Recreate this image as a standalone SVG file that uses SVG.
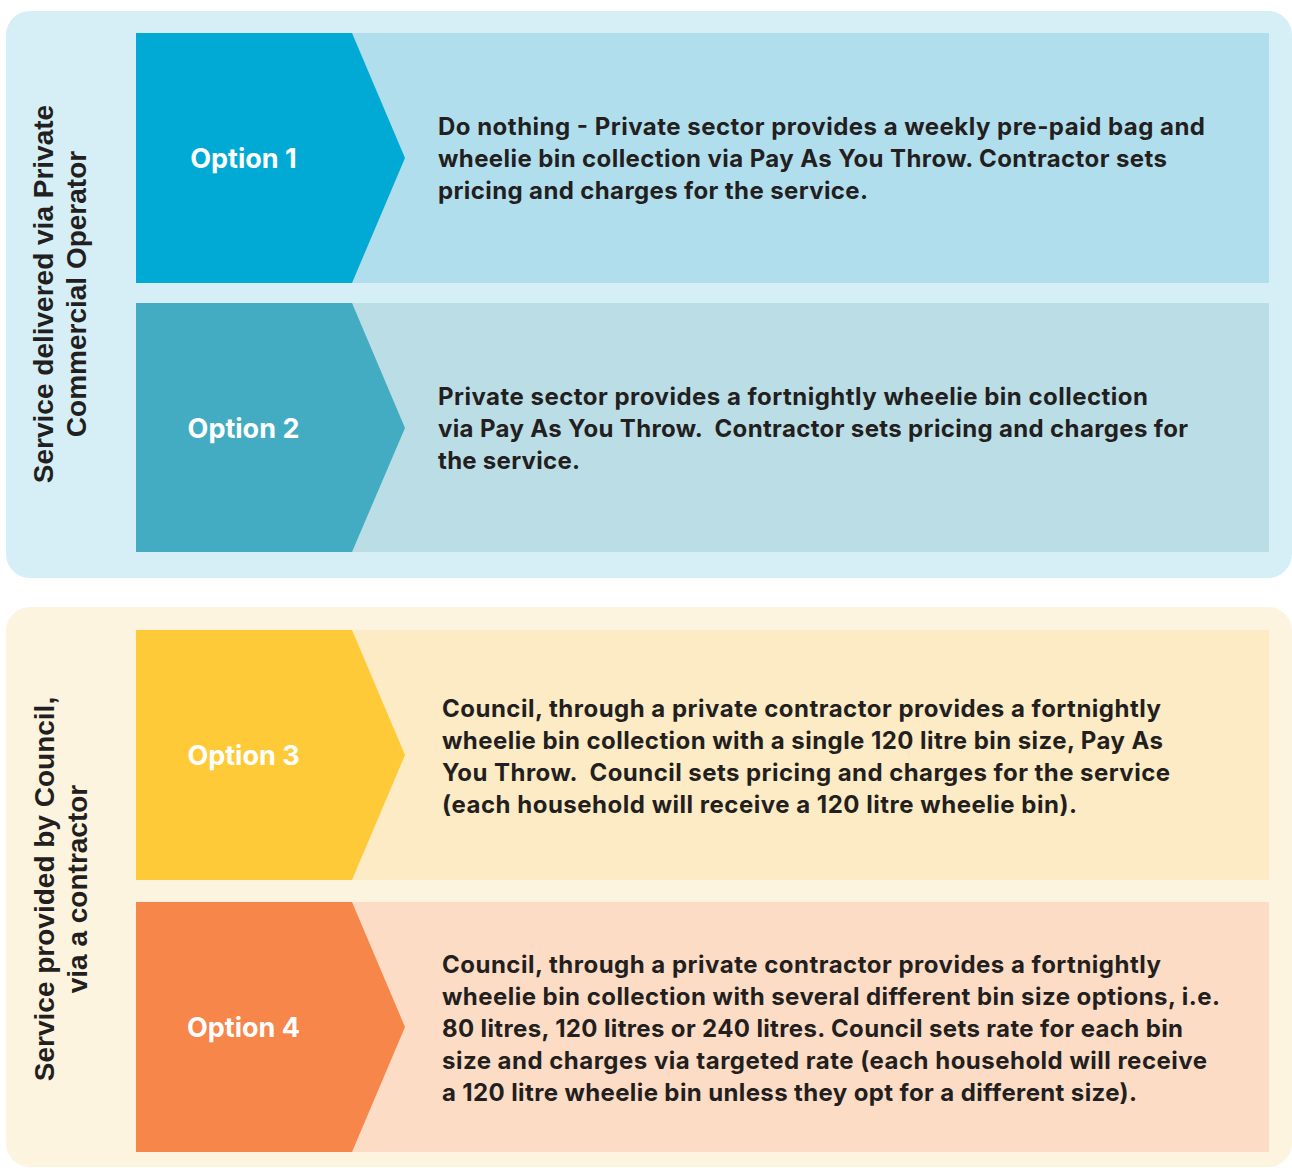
<svg xmlns="http://www.w3.org/2000/svg" width="1292" height="1168" viewBox="0 0 1292 1168">
<style>
.side{font-family:"Liberation Sans",Arial,sans-serif;font-weight:700;font-size:28px;fill:#231f20;text-anchor:middle}
.opt{font-family:Inter,"Noto Sans",sans-serif;font-weight:700;font-size:27px;fill:#ffffff;text-anchor:middle}
.body{font-family:Inter,"Noto Sans",sans-serif;font-weight:700;font-size:24px;fill:#231f20;white-space:pre}
</style>
<rect width="1292" height="1168" fill="#ffffff"/>
<g id="panel-private">
<rect x="6" y="11" width="1286" height="567" rx="24" fill="#d6eff6"/>
<text class="side" transform="translate(53,294) rotate(-90)"><tspan x="0" y="0">Service delivered via Private</tspan><tspan x="0" y="33">Commercial Operator</tspan></text>
</g>
<g id="option1">
<rect x="136" y="33" width="1133" height="250" fill="#b1deed"/>
<polygon points="136,33 352,33 405,158 352,283 136,283" fill="#00aad4"/>
<text class="opt" x="243.5" y="168">Option 1</text>
<text class="body"><tspan x="438" y="135" textLength="767">Do nothing - Private sector provides a weekly pre-paid bag and</tspan><tspan x="438" y="167" textLength="729">wheelie bin collection via Pay As You Throw. Contractor sets</tspan><tspan x="438" y="199" textLength="430">pricing and charges for the service.</tspan></text>
</g>
<g id="option2">
<rect x="136" y="303" width="1133" height="249" fill="#badde6"/>
<polygon points="136,303 352,303 405,428 352,552 136,552" fill="#44acc2"/>
<text class="opt" x="243.5" y="438">Option 2</text>
<text class="body"><tspan x="438" y="405" textLength="710">Private sector provides a fortnightly wheelie bin collection</tspan><tspan x="438" y="437" textLength="750">via Pay As You Throw.  Contractor sets pricing and charges for</tspan><tspan x="438" y="469" textLength="142">the service.</tspan></text>
</g>
<g id="panel-council">
<rect x="6" y="607" width="1286" height="560" rx="24" fill="#fdf4e0"/>
<text class="side" transform="translate(54,889) rotate(-90)"><tspan x="0" y="0">Service provided by Council,</tspan><tspan x="0" y="33">via a contractor</tspan></text>
</g>
<g id="option3">
<rect x="136" y="630" width="1133" height="250" fill="#fcebc4"/>
<polygon points="136,630 352,630 405,755 352,880 136,880" fill="#ffca38"/>
<text class="opt" x="243.5" y="765">Option 3</text>
<text class="body"><tspan x="442" y="717" textLength="719">Council, through a private contractor provides a fortnightly</tspan><tspan x="442" y="749" textLength="721">wheelie bin collection with a single 120 litre bin size, Pay As</tspan><tspan x="442" y="781" textLength="728">You Throw.  Council sets pricing and charges for the service</tspan><tspan x="442" y="813" textLength="635">(each household will receive a 120 litre wheelie bin).</tspan></text>
</g>
<g id="option4">
<rect x="136" y="902" width="1133" height="250" fill="#fcdcc4"/>
<polygon points="136,902 352,902 405,1027 352,1152 136,1152" fill="#f6864a"/>
<text class="opt" x="243.5" y="1037">Option 4</text>
<text class="body"><tspan x="442" y="973" textLength="719">Council, through a private contractor provides a fortnightly</tspan><tspan x="442" y="1005" textLength="778">wheelie bin collection with several different bin size options, i.e.</tspan><tspan x="442" y="1037" textLength="741">80 litres, 120 litres or 240 litres. Council sets rate for each bin</tspan><tspan x="442" y="1069" textLength="765">size and charges via targeted rate (each household will receive</tspan><tspan x="442" y="1101" textLength="695">a 120 litre wheelie bin unless they opt for a different size).</tspan></text>
</g>
<g id="connectors"></g>
</svg>
